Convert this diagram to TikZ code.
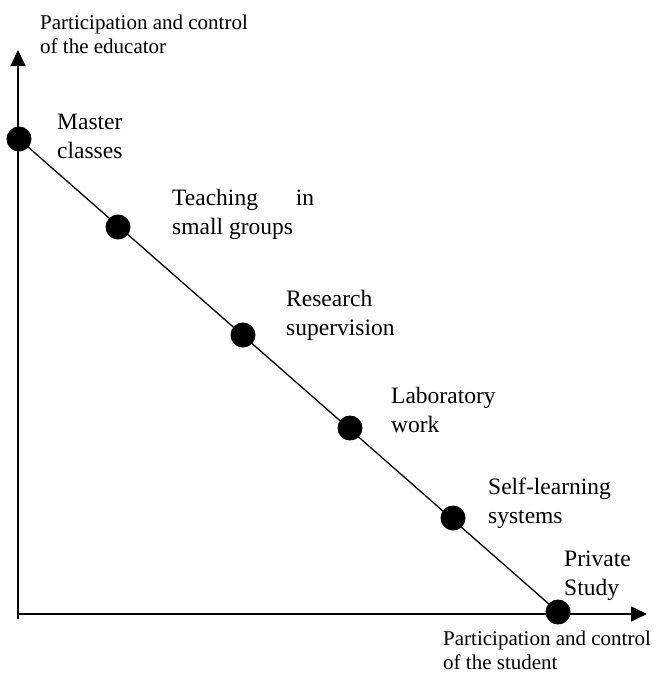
\documentclass[tikz,border=0pt]{standalone}
\usepackage{fontspec}
\setmainfont{Liberation Serif}
\usetikzlibrary{arrows.meta}
\tikzset{
  dot/.style={circle, fill=black, inner sep=0pt, minimum size=25pt},
  lbl/.style={anchor=base west, align=left, inner sep=0pt, font=\fontsize{23.5}{28.5}\selectfont},
  axislbl/.style={anchor=base west, align=left, inner sep=0pt, font=\fontsize{21}{23.5}\selectfont},
  axis/.style={line width=1.6pt, -{Triangle[length=16pt,width=15pt]}}
}
\begin{document}
\begin{tikzpicture}[x=1pt, y=-1pt]
\useasboundingbox (0,0) rectangle (667,673);
% axes
\coordinate (ybot) at (18,619);
\coordinate (xleft) at (17,614);
\coordinate (ytip) at (18,50);
\coordinate (xtip) at (647,614);
\draw[axis] (ybot) -- (ytip);
\draw[axis] (xleft) -- (xtip);
% teaching forms
\foreach \nm/\u/\v in {master/19/139, teach/118/227, research/243/335, lab/350/428, self/453/518, private/558/612}
  \node[dot] (\nm) at (\u,\v) {};
\draw[line width=1.3pt] (master.center) -- (private.center);
% labels (anchored at the last line)
\node[lbl] (masterlbl) at (57,158) {Master\\classes};
\node[lbl] (teachlbl) at (172,234) {\makebox[142pt][s]{Teaching in}\\small groups};
\node[lbl] (researchlbl) at (286,335) {Research\\supervision};
\node[lbl] (lablbl) at (391,432) {Laboratory\\work};
\node[lbl] (selflbl) at (488,523) {Self-learning\\systems};
\node[lbl] (privatelbl) at (564,595) {Private\\Study};
\node[axislbl] (ylbl) at (40,53) {Participation and control\\of the educator};
\node[axislbl] (xlbl) at (443,669) {Participation and control\\of the student};
\end{tikzpicture}
\end{document}
